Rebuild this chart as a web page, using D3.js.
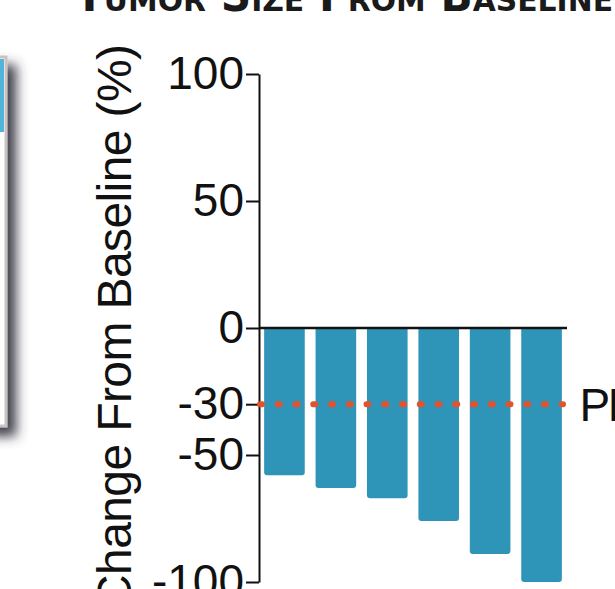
<!DOCTYPE html>
<html>
<head>
<meta charset="utf-8">
<script src="https://cdn.jsdelivr.net/npm/d3@7"></script>
<style>
  html, body { margin: 0; padding: 0; background: #fff; overflow: hidden; }
  svg { display: block; }
</style>
</head>
<body>
<svg id="chart" width="615" height="589"></svg>
<script>
// ---- data ----
const patients = ["P1", "P2", "P3", "P4", "P5", "P6"];
const changeValues = [-58, -63, -67, -76, -89, -100];
const tickValues = [100, 50, 0, -30, -50, -100];
const thresholdValue = -30;
const thresholdLabel = "PR";
const yAxisTitle = "Change From Baseline (%)";
const chartTitle = "Tumor Size From Baseline";

const svg = d3.select("#chart");

// ---- defs: drop shadow for the side panel ----
const defs = svg.append("defs");
const f = defs.append("filter").attr("id", "shadow")
  .attr("x", "-50%").attr("y", "-20%").attr("width", "250%").attr("height", "150%");
f.append("feDropShadow").attr("dx", 9).attr("dy", 9).attr("stdDeviation", 6)
  .attr("flood-color", "#33333c").attr("flood-opacity", 0.9);

// side panel (partially visible at left edge)
const panel = svg.append("g");
panel.append("rect").attr("x", -30).attr("y", 57).attr("width", 36).attr("height", 369)
  .attr("fill", "#fff").attr("stroke", "#c9c2c2").attr("stroke-width", 3)
  .attr("filter", "url(#shadow)");
panel.append("rect").attr("x", -30).attr("y", 59).attr("width", 34).attr("height", 73)
  .attr("fill", "#52b4d8");

// ---- title (cut off at top) ----
svg.append("text")
  .attr("x", 75).attr("y", 11)
  .attr("textLength", 538).attr("lengthAdjust", "spacingAndGlyphs")
  .style("font-family", "'DejaVu Sans Condensed', 'Liberation Sans Narrow', 'Liberation Sans', sans-serif")
  .style("font-weight", "900")
  .style("font-variant", "small-caps")
  .style("font-size", "44px")
  .attr("fill", "#1a1a1a")
  .text(chartTitle);

// ---- scales ----
const axisX = 259;
const y = d3.scaleLinear().domain([-100, 100]).range([582, 74]);
const x = d3.scaleBand().domain(patients).range([axisX, 567])
  .paddingInner(0.21).paddingOuter(0.1);

const font = "'Liberation Sans', Arial, Helvetica, sans-serif";

// ---- bars with rounded bottom corners ----
const r = 3;
svg.append("g").selectAll("path").data(patients).join("path")
  .attr("fill", "#2e95b8")
  .attr("d", (p, i) => {
    const x0 = x(p), x1 = x(p) + x.bandwidth();
    const y0 = y(0), y1 = y(changeValues[i]);
    return `M${x0},${y0}V${y1 - r}Q${x0},${y1} ${x0 + r},${y1}H${x1 - r}Q${x1},${y1} ${x1},${y1 - r}V${y0}Z`;
  });

// ---- zero line ----
svg.append("line")
  .attr("x1", axisX).attr("x2", 567)
  .attr("y1", y(0)).attr("y2", y(0))
  .attr("stroke", "#111").attr("stroke-width", 2.5);

// ---- y axis ----
const yAxis = d3.axisLeft(y).tickValues(tickValues).tickFormat(d => String(d))
  .tickSize(13).tickSizeOuter(0).tickPadding(2);
const ga = svg.append("g").attr("transform", `translate(${axisX},0)`).call(yAxis);
ga.select(".domain").attr("stroke", "#111").attr("stroke-width", 2);
ga.selectAll(".tick line").attr("stroke", "#111").attr("stroke-width", 2);
ga.selectAll(".tick text")
  .style("font-family", font).style("font-size", "46px").attr("fill", "#111");

// ---- threshold dotted line ----
svg.append("line")
  .attr("x1", axisX + 1).attr("x2", 563)
  .attr("y1", y(thresholdValue)).attr("y2", y(thresholdValue))
  .attr("stroke", "#e5512a").attr("stroke-width", 6)
  .attr("stroke-linecap", "round")
  .attr("stroke-dasharray", "2 15.75");

svg.append("text")
  .attr("x", 579.5).attr("y", y(thresholdValue))
  .attr("dy", "0.36em")
  .style("letter-spacing", "-2.5px")
  .style("font-family", font).style("font-size", "46px").attr("fill", "#111")
  .text(thresholdLabel);

// ---- y axis title ----
svg.append("text")
  .attr("transform", "translate(131,609) rotate(-90)")
  .attr("text-anchor", "start")
  .attr("textLength", 565).attr("lengthAdjust", "spacing")
  .style("font-family", font).style("font-size", "48px").attr("fill", "#111")
  .text(yAxisTitle);
</script>
</body>
</html>
